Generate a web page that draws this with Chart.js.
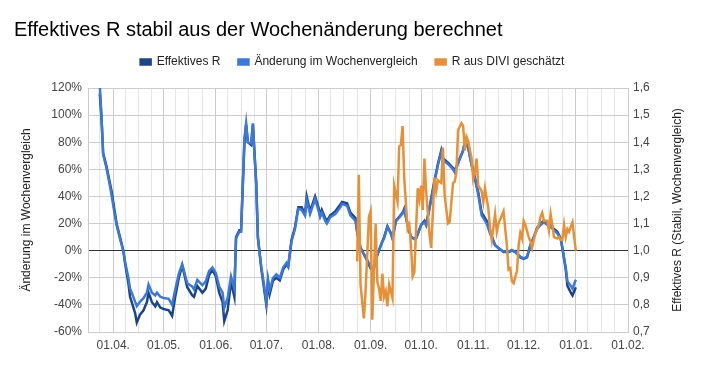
<!DOCTYPE html>
<html>
<head>
<meta charset="utf-8">
<script src="https://cdn.jsdelivr.net/npm/chart.js@4"></script>
<style>
html,body{margin:0;padding:0;background:#fff;}
#wrap{width:705px;height:371px;position:relative;}
</style>
</head>
<body>
<div id="wrap"><canvas id="c"></canvas></div>
<script>
// ---------- DATA ----------
const blueDates = [
'2020-03-24','2020-03-25','2020-03-26','2020-03-28','2020-03-30','2020-03-31','2020-04-02','2020-04-03','2020-04-05','2020-04-07',
'2020-04-08','2020-04-10','2020-04-11','2020-04-12','2020-04-14','2020-04-15','2020-04-17','2020-04-19','2020-04-21','2020-04-22',
'2020-04-24','2020-04-26','2020-04-27','2020-04-29','2020-05-01','2020-05-04','2020-05-06','2020-05-08','2020-05-10','2020-05-12',
'2020-05-15','2020-05-18','2020-05-19','2020-05-21','2020-05-24','2020-05-26','2020-05-28','2020-05-30','2020-06-01','2020-06-03',
'2020-06-05','2020-06-06','2020-06-08','2020-06-10','2020-06-12','2020-06-13','2020-06-15','2020-06-16','2020-06-18','2020-06-19',
'2020-06-20','2020-06-22','2020-06-23','2020-06-25','2020-06-26','2020-06-28','2020-06-29','2020-07-01','2020-07-02','2020-07-03',
'2020-07-05','2020-07-07','2020-07-09','2020-07-11','2020-07-13','2020-07-14','2020-07-16','2020-07-18','2020-07-20','2020-07-22',
'2020-07-24','2020-07-25','2020-07-27','2020-07-30','2020-08-01','2020-08-02','2020-08-03','2020-08-05','2020-08-06','2020-08-08',
'2020-08-11','2020-08-14','2020-08-15','2020-08-18','2020-08-20','2020-08-23','2020-08-24','2020-08-26','2020-08-29','2020-09-01',
'2020-09-03','2020-09-05','2020-09-08','2020-09-09','2020-09-11','2020-09-13','2020-09-14','2020-09-16','2020-09-20','2020-09-21',
'2020-09-23','2020-09-25','2020-09-27','2020-09-28','2020-10-01','2020-10-03','2020-10-04','2020-10-06','2020-10-09','2020-10-11',
'2020-10-13','2020-10-14','2020-10-17','2020-10-20','2020-10-21','2020-10-24','2020-10-26','2020-10-27','2020-10-29','2020-10-31',
'2020-11-02','2020-11-04','2020-11-06','2020-11-09','2020-11-11','2020-11-14','2020-11-16','2020-11-19','2020-11-22','2020-11-24',
'2020-11-26','2020-11-29','2020-12-01','2020-12-03','2020-12-05','2020-12-07','2020-12-09','2020-12-11','2020-12-13','2020-12-15',
'2020-12-16','2020-12-19','2020-12-21','2020-12-23','2020-12-24','2020-12-26','2020-12-27','2020-12-29','2020-12-30','2021-01-01'
];
// Änderung im Wochenvergleich (%), left axis
const aenderung = [
122,100,71,61,48,41,26,19,9,0,
-8,-20,-28,-31,-37.6,-41,-37.6,-35,-31,-25,
-31,-33,-31,-34,-35,-35.5,-40,-28,-17,-10,
-24,-26.5,-28.5,-21.5,-25.5,-22.6,-15,-12.5,-16.5,-26.5,
-31,-42,-35,-19,-28,9,14,14,83,94,
80,79,94,48,9,-12,-20,-37.6,-21,-29,
-20,-17.5,-20,-12.5,-9,-11.5,7,16,31,30,
26,37,27,38,29.6,25,28,22,20,24.7,
27,32,34.5,33,26,22,14,1.7,-4.4,-11.8,
-11.8,-3,6.6,9,17.6,12.7,9,21.6,27.4,30,
18.8,10,8.5,9,18.8,21,18.8,31,50.6,63,
72.7,66.6,64,60,57.8,67.8,74,81,76.5,63,
53,41,26,20,12.7,4,1.7,-0.7,-0.7,0.5,
-1,-4.4,-5.6,-4.4,4,10,16,19,21,19,
18.8,15,12.7,9,1.7,-12.5,-22.6,-26,-28,-21.5
];
// Effektives R, right axis
const effektivesR = [
1.58,1.49,1.36,1.31,1.25,1.22,1.14,1.10,1.05,1.00,
0.955,0.88,0.83,0.81,0.77,0.735,0.765,0.78,0.81,0.845,
0.81,0.795,0.81,0.79,0.785,0.78,0.76,0.835,0.90,0.945,
0.865,0.835,0.83,0.87,0.845,0.86,0.91,0.93,0.905,0.845,
0.81,0.74,0.78,0.885,0.83,1.05,1.075,1.075,1.40,1.465,
1.40,1.39,1.465,1.25,1.05,0.935,0.89,0.80,0.885,0.84,
0.89,0.90,0.89,0.93,0.95,0.94,1.04,1.085,1.16,1.16,
1.135,1.20,1.145,1.20,1.16,1.13,1.15,1.12,1.11,1.13,
1.145,1.17,1.18,1.175,1.14,1.12,1.07,1.01,0.975,0.935,
0.935,0.985,1.035,1.05,1.09,1.065,1.045,1.11,1.14,1.155,
1.095,1.05,1.045,1.045,1.095,1.11,1.095,1.16,1.26,1.32,
1.37,1.34,1.325,1.305,1.295,1.34,1.37,1.40,1.38,1.32,
1.27,1.215,1.14,1.11,1.07,1.02,1.01,0.995,0.995,1.0,
0.995,0.975,0.97,0.975,1.02,1.05,1.085,1.10,1.11,1.10,
1.10,1.08,1.07,1.045,1.01,0.93,0.87,0.845,0.835,0.865
];
const diviDates = [
'2020-08-24','2020-08-25','2020-08-26','2020-08-28','2020-08-29','2020-08-31','2020-09-01','2020-09-02','2020-09-04','2020-09-05',
'2020-09-06','2020-09-07','2020-09-08','2020-09-09','2020-09-10','2020-09-11','2020-09-12','2020-09-14','2020-09-15','2020-09-17',
'2020-09-18','2020-09-19','2020-09-20','2020-09-21','2020-09-23','2020-09-24','2020-09-25','2020-09-26','2020-09-27','2020-09-29',
'2020-09-30','2020-10-01','2020-10-02','2020-10-03','2020-10-04','2020-10-06','2020-10-07','2020-10-09','2020-10-10','2020-10-11',
'2020-10-13','2020-10-14','2020-10-15','2020-10-17','2020-10-18','2020-10-20','2020-10-21','2020-10-22','2020-10-23','2020-10-25',
'2020-10-26','2020-10-27','2020-10-28','2020-10-29','2020-10-31','2020-11-01','2020-11-02','2020-11-03','2020-11-04','2020-11-06',
'2020-11-07','2020-11-08','2020-11-10','2020-11-11','2020-11-12','2020-11-14','2020-11-15','2020-11-16','2020-11-18','2020-11-19',
'2020-11-21','2020-11-22','2020-11-23','2020-11-24','2020-11-25','2020-11-27','2020-11-28','2020-11-29','2020-11-30','2020-12-01',
'2020-12-02','2020-12-04','2020-12-05','2020-12-06','2020-12-07','2020-12-08','2020-12-10','2020-12-11','2020-12-12','2020-12-13',
'2020-12-15','2020-12-16','2020-12-17','2020-12-18','2020-12-19','2020-12-21','2020-12-22','2020-12-23','2020-12-24','2020-12-25',
'2020-12-26','2020-12-27','2020-12-28','2020-12-30','2020-12-31','2021-01-01'
];
const diviR = [
0.96,1.28,0.875,0.75,0.85,1.125,1.145,0.745,1.10,0.885,
0.86,0.815,0.915,0.83,0.85,0.795,0.875,0.825,1.24,1.18,
1.385,1.39,1.46,1.265,1.08,1.095,1.02,0.905,0.92,1.23,
1.19,1.24,1.15,1.34,1.22,1.06,1.01,1.27,1.22,1.26,
1.25,1.38,1.205,1.10,1.105,1.25,1.255,1.29,1.445,1.47,
1.46,1.37,1.42,1.405,1.34,1.265,1.29,1.34,1.24,1.22,
1.18,1.23,1.155,1.08,1.04,1.135,1.07,1.10,1.13,1.145,
1.02,0.93,0.935,0.887,0.88,0.925,1.02,1.065,1.045,1.11,
1.095,1.05,1.035,1.01,1.04,1.065,1.095,1.125,1.14,1.11,
1.11,1.075,1.135,1.095,1.05,1.045,1.05,1.04,1.04,1.095,
1.05,1.08,1.07,1.105,1.05,1.0
];
const seriesNames = ['Effektives R', 'Änderung im Wochenvergleich', 'R aus DIVI geschätzt'];
const majorTicks = ['2020-04-01','2020-05-01','2020-06-01','2020-07-01','2020-08-01','2020-09-01','2020-10-01','2020-11-01','2020-12-01','2021-01-01','2021-02-01'];
const majorTickLabels = ['01.04.','01.05.','01.06.','01.07.','01.08.','01.09.','01.10.','01.11.','01.12.','01.01.','01.02.'];
const minorTicks = ['2020-03-24',
'2020-04-08','2020-04-16','2020-04-24','2020-05-08','2020-05-16','2020-05-24','2020-06-08','2020-06-16','2020-06-24',
'2020-07-08','2020-07-16','2020-07-24','2020-08-08','2020-08-16','2020-08-24','2020-09-08','2020-09-16','2020-09-24',
'2020-10-08','2020-10-16','2020-10-24','2020-11-08','2020-11-16','2020-11-24','2020-12-08','2020-12-16','2020-12-24',
'2021-01-08','2021-01-16','2021-01-24'];
const xMin = '2020-03-17', xMax = '2021-02-01';
const leftTicks = {min: -60, max: 120, step: 20};
const rightTicks = {min: 0.7, max: 1.6, step: 0.1};
const leftTitle = 'Änderung im Wochenvergleich';
const rightTitle = 'Effektives R (Stabil, Wochenvergleich)';

// ---------- HELPERS ----------
function dayNum(s){ const p = s.split('-').map(Number); return Date.UTC(p[0], p[1]-1, p[2]) / 86400000; }
const majorSet = new Map(majorTicks.map((d,i)=>[dayNum(d), majorTickLabels[i]]));
const allTicks = majorTicks.concat(minorTicks).map(dayNum).sort((a,b)=>a-b);

const FONT = '"Liberation Sans", Arial, Helvetica, sans-serif';
Chart.defaults.font.family = FONT;
Chart.defaults.font.size = 12;
Chart.defaults.color = '#444';

const legendFix = {
  id: 'legendFix',
  afterInit(chart){
    const lg = chart.legend;
    const f = lg.fit;
    lg.fit = function(){ f.call(this); this.height = 50; };
  }
};
// right axis title, reading bottom-to-top like the reference
const rightAxisTitle = {
  id: 'rightAxisTitle',
  afterDraw(chart){
    const s = chart.scales.y1, ctx = chart.ctx, a = chart.chartArea;
    ctx.save();
    ctx.font = '12px ' + FONT;
    ctx.fillStyle = '#222';
    ctx.textAlign = 'center';
    ctx.textBaseline = 'middle';
    ctx.translate(s.right - 13, (a.top + a.bottom) / 2);
    ctx.rotate(-Math.PI / 2);
    ctx.fillText(rightTitle, 0, 0);
    ctx.restore();
  }
};

new Chart(document.getElementById('c'), {
  type: 'line',
  data: {
    datasets: [
      { label: seriesNames[0], yAxisID: 'y1', order: 3,
        data: blueDates.map((d,i)=>({x: dayNum(d), y: effektivesR[i]})),
        borderColor: '#1c4587', backgroundColor: '#1c4587', borderWidth: 2.5, pointRadius: 0, tension: 0 },
      { label: seriesNames[1], yAxisID: 'y', order: 2,
        data: blueDates.map((d,i)=>({x: dayNum(d), y: aenderung[i]})),
        borderColor: '#3c78d8', backgroundColor: '#3c78d8', borderWidth: 2.5, pointRadius: 0, tension: 0 },
      { label: seriesNames[2], yAxisID: 'y1', order: 1,
        data: diviDates.map((d,i)=>({x: dayNum(d), y: diviR[i]})),
        borderColor: '#e69138', backgroundColor: '#e69138', borderWidth: 2.5, pointRadius: 0, tension: 0 }
    ]
  },
  options: {
    responsive: true, maintainAspectRatio: false, animation: false, devicePixelRatio: 1,
    layout: { padding: { left: 14, right: 14, top: 0, bottom: 0 } },
    plugins: {
      title: { display: true, text: 'Effektives R stabil aus der Wochenänderung berechnet', align: 'start',
        color: '#000', font: { size: 20, weight: 'normal' }, padding: { top: 18, bottom: -4 } },
      legend: { position: 'top', align: 'center',
        labels: { boxWidth: 10, boxHeight: 5, padding: 18, color: '#222', font: { size: 12 },
          sort: (a,b)=>a.datasetIndex - b.datasetIndex } },
      tooltip: { enabled: false }
    },
    scales: {
      x: { type: 'linear', min: dayNum(xMin), max: dayNum(xMax),
        afterBuildTicks: (s)=>{ s.ticks = allTicks.map(v=>({value: v})); },
        afterFit: (s)=>{ s.height = 39; },
        ticks: { autoSkip: false, maxRotation: 0, minRotation: 0, padding: 6, color: '#444',
          callback: (v)=> majorSet.has(v) ? majorSet.get(v) : '' },
        grid: { drawTicks: false, color: (c)=> (c.tick && majorSet.has(c.tick.value)) ? '#cccccc' : '#e6e6e6' },
        border: { display: true, color: '#cccccc' } },
      y: { position: 'left', min: leftTicks.min, max: leftTicks.max,
        afterFit: (s)=>{ s.width = 74; },
        ticks: { stepSize: leftTicks.step, padding: 6, color: '#444', callback: (v)=> v + '%' },
        grid: { drawTicks: false, color: (c)=> (c.tick && c.tick.value === 0) ? '#333333' : '#cccccc' },
        border: { display: true, color: '#cccccc' },
        title: { display: true, text: leftTitle, color: '#222', font: { size: 12 }, padding: { top: 5, bottom: 0 } } },
      y1: { position: 'right', min: rightTicks.min, max: rightTicks.max,
        afterFit: (s)=>{ s.width = 63; },
        ticks: { stepSize: rightTicks.step, padding: 5, color: '#444', callback: (v)=> Number(v).toFixed(1).replace('.', ',') },
        grid: { display: false, drawTicks: false },
        border: { display: false },
        title: { display: false } }
    }
  },
  plugins: [legendFix, rightAxisTitle]
});
</script>
</body>
</html>
